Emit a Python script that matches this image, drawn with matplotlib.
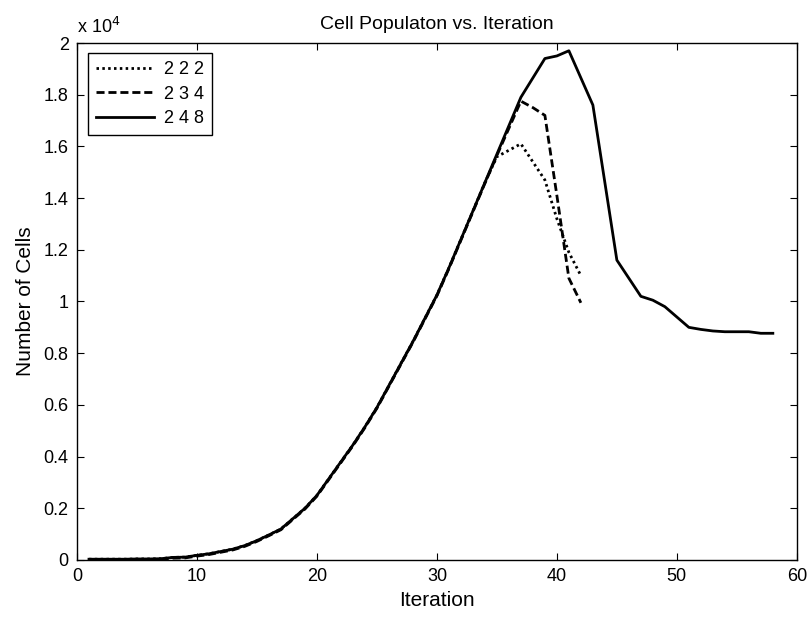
import numpy as np
import matplotlib
matplotlib.use("Agg")
import matplotlib.pyplot as plt
from matplotlib.ticker import FuncFormatter, MultipleLocator

plt.rcParams['font.family'] = ['Liberation Sans', 'DejaVu Sans']

# iteration numbers for each run
iter_222 = list(range(1, 43))
iter_234 = list(range(1, 43))
iter_248 = list(range(1, 59))

# common growth phase (iterations 1..34)
growth = [30, 30, 30, 30, 40, 40, 50, 100, 110, 180,
          240, 330, 420, 560, 750, 970, 1200, 1600, 2000, 2500,
          3150, 3800, 4450, 5150, 5900, 6750, 7600, 8450, 9350, 10250,
          11300, 12400, 13500, 14600]

cells_222 = growth + [15600, 15850, 16100, 15400, 14700, 13200, 11900, 11000]
cells_234 = [v - 30 for v in growth] + [15650, 16700, 17750, 17500, 17200, 14100, 10900, 9950]
cells_248 = growth + [15700, 16800, 17900, 18650, 19400, 19500, 19700,
                      18650, 17600, 14600, 11600, 10900, 10200, 10050, 9800,
                      9400, 9000, 8920, 8860, 8830, 8830, 8830, 8770, 8770]

labels = ['2 2 2', '2 3 4', '2 4 8']

fig = plt.figure(figsize=(8.07, 6.17), dpi=100)
ax = fig.add_axes([0.0954, 0.0924, 0.892, 0.8379])

lw = 2.0
ax.plot(iter_222, cells_222, color='black', lw=lw, linestyle=(0, (0.9, 1.2)), label=labels[0])
ax.plot(iter_234, cells_234, color='black', lw=lw, linestyle=(0, (2.9, 1.4)), label=labels[1])
ax.plot(iter_248, cells_248, color='black', lw=lw, linestyle='-', label=labels[2])

ax.set_xlim(0, 60)
ax.set_ylim(0, 20000)
ax.xaxis.set_major_locator(MultipleLocator(10))
ax.yaxis.set_major_locator(MultipleLocator(2000))
ax.yaxis.set_major_formatter(FuncFormatter(lambda v, p: '%g' % round(v / 1e4, 2)))

ax.tick_params(direction='in', top=True, right=True, length=5, width=0.8,
               labelsize=13, pad=6)
for s in ax.spines.values():
    s.set_linewidth(1.0)

ax.set_title('Cell Populaton vs. Iteration', fontsize=14, pad=10)
ax.set_xlabel('Iteration', fontsize=15, labelpad=4)
ax.set_ylabel('Number of Cells', fontsize=15, labelpad=6)

ax.text(0.0, 1.012, 'x 10$^{4}$', transform=ax.transAxes, fontsize=13,
        ha='left', va='bottom')

leg = ax.legend(loc='upper left', bbox_to_anchor=(0.0149, 0.980), borderaxespad=0,
                fontsize=13, handlelength=3.2, handletextpad=0.55, labelspacing=0.4,
                borderpad=0.45, fancybox=False, framealpha=1, edgecolor='black')
leg.get_frame().set_linewidth(1.0)

fig.savefig('out.png', dpi=100)
